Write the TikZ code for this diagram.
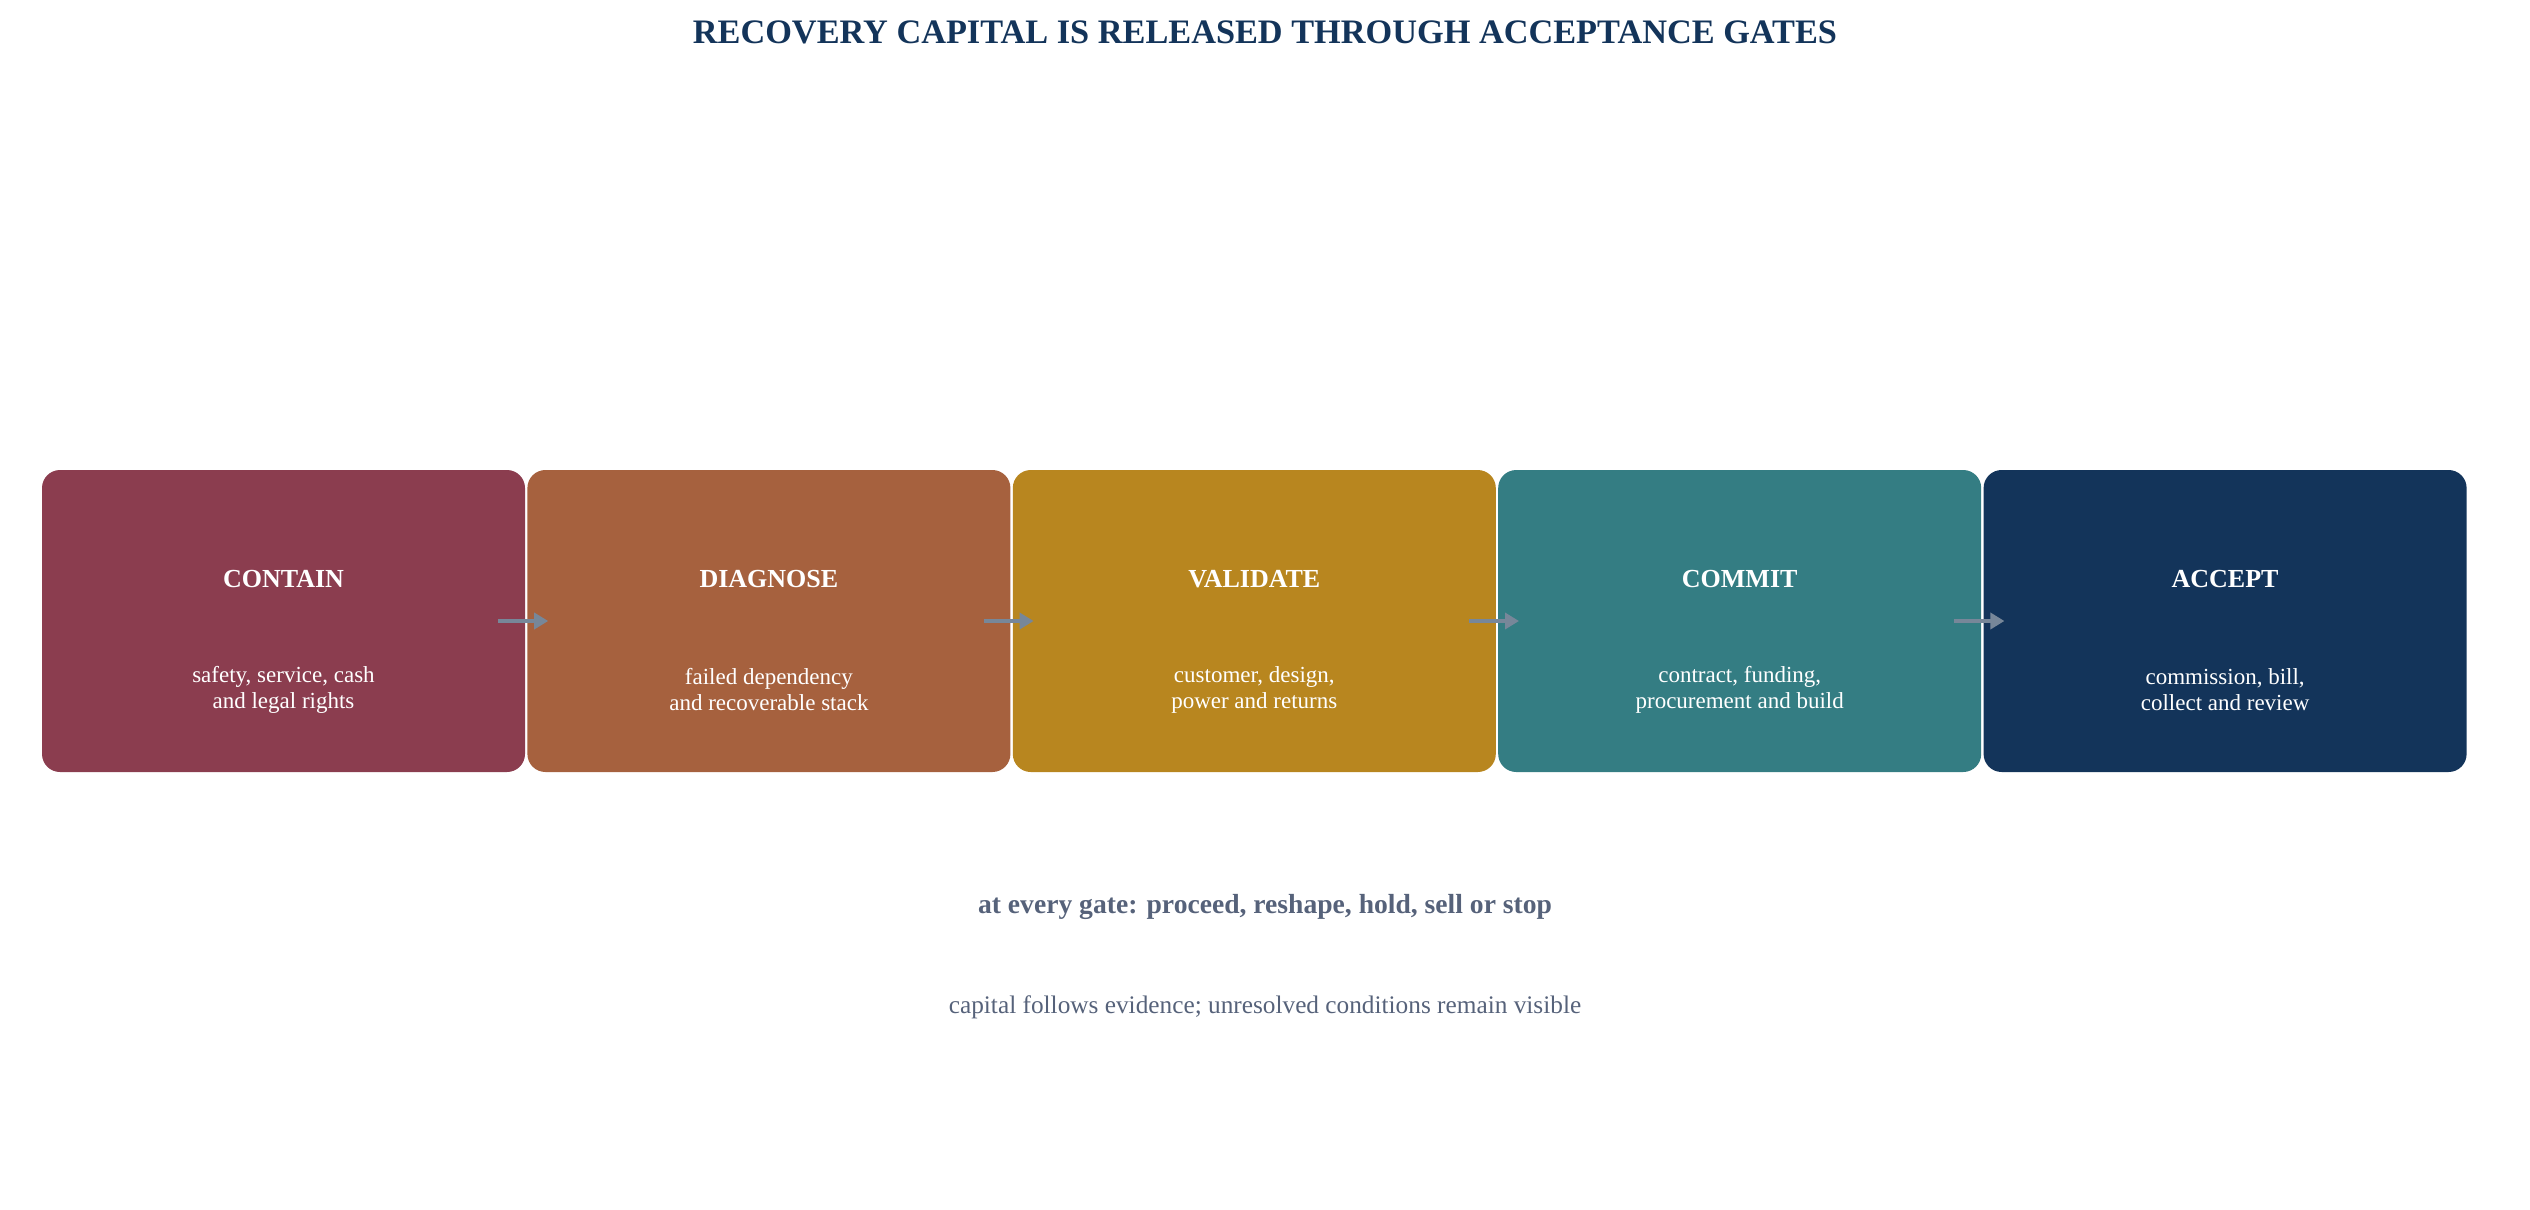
\documentclass[tikz,border=0pt]{standalone}
\usepackage{fontspec}
\setmainfont{Liberation Serif}
\usetikzlibrary{positioning, arrows.meta}
\definecolor{wine}{HTML}{8B3D4F}
\definecolor{rust}{HTML}{A6613E}
\definecolor{ochre}{HTML}{B8861F}
\definecolor{teal}{HTML}{347D83}
\definecolor{navy}{HTML}{13345A}
\definecolor{slate}{HTML}{56627A}
\definecolor{arrowgray}{HTML}{778799}
\tikzset{
    gate/.style={rounded corners=18pt, minimum width=483pt, minimum height=302pt, inner sep=0pt}, % one stage box
    gatename/.style={text=white, font=\fontsize{26}{31}\selectfont\bfseries},
    gatetext/.style={text=white, align=center, font=\fontsize{23}{26}\selectfont},
    flow/.style={-{Triangle[length=14pt,width=16pt]}, line width=4.5pt, arrowgray}, % arrows between gates
    }
\begin{document}
\begin{tikzpicture}[x=1pt, y=1pt]
\useasboundingbox (0,0) rectangle (2530,-1210);

\node[font=\fontsize{34.3}{39}\selectfont\bfseries, text=navy] (title) at (1265,-32) {RECOVERY CAPITAL IS RELEASED THROUGH ACCEPTANCE GATES};

\node[gate, fill=wine] (contain) at (283.5,-621) {};
\node[gate, fill=rust, right=2pt of contain] (diagnose) {};
\node[gate, fill=ochre, right=2pt of diagnose] (validate) {};
\node[gate, fill=teal, right=2pt of validate] (commit) {};
\node[gate, fill=navy, right=2pt of commit] (accept) {};

\foreach \g/\n/\t in {contain/CONTAIN/{safety, service, cash\\and legal rights},
                      diagnose/DIAGNOSE/{failed dependency\\and recoverable stack},
                      validate/VALIDATE/{customer, design,\\power and returns},
                      commit/COMMIT/{contract, funding,\\procurement and build},
                      accept/ACCEPT/{commission, bill,\\collect and review}}{
    \node[gatename] (\g-name) at (\g.center |- 0,-579) {\n};
    \node[gatetext] (\g-text) at (\g.center |- 0,-690) {\t};
}

\draw[flow] ([xshift=-27pt]contain.east) -- ([xshift=21pt]diagnose.west);
\draw[flow] ([xshift=-27pt]diagnose.east) -- ([xshift=21pt]validate.west);
\draw[flow] ([xshift=-27pt]validate.east) -- ([xshift=21pt]commit.west);
\draw[flow] ([xshift=-27pt]commit.east) -- ([xshift=21pt]accept.west);

\node[font=\fontsize{27.6}{32}\selectfont\bfseries, text=slate] (rule) at (1265,-907) {at every gate: proceed, reshape, hold, sell or stop};
\node[font=\fontsize{25.3}{29}\selectfont, text=slate] (note) at (1265,-1007) {capital follows evidence; unresolved conditions remain visible};
\end{tikzpicture}
\end{document}
